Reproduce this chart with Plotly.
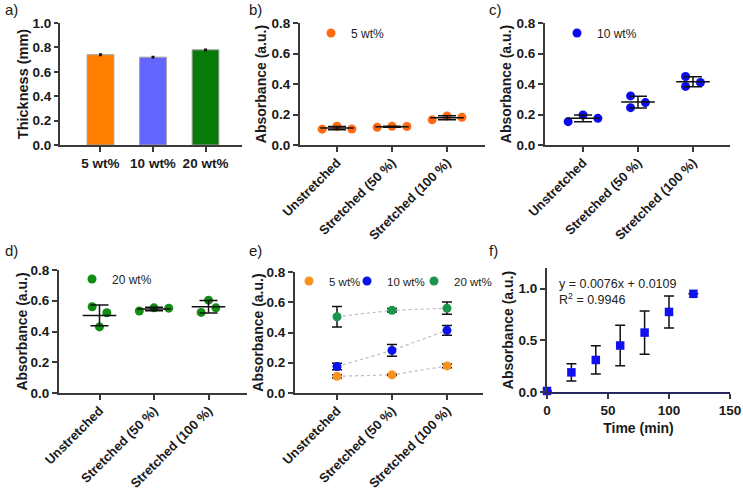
import numpy as np
import plotly.graph_objects as go

W, H = 743, 492
FONT = "Liberation Sans, Arial, sans-serif"

# ---------------- data ----------------
thick_labels = ["5 wt%", "10 wt%", "20 wt%"]
thick_mean = [0.74, 0.72, 0.78]
thick_err = [0.004, 0.003, 0.003]
thick_colors = ["#FF8000", "#6464FF", "#077A07"]

stretch_labels = ["Unstretched", "Stretched (50 %)", "Stretched (100 %)"]
abs_5wt = [[0.104, 0.123, 0.105], [0.116, 0.123, 0.121], [0.165, 0.190, 0.182]]
abs_10wt = [[0.153, 0.197, 0.175], [0.322, 0.245, 0.278], [0.449, 0.384, 0.410]]
abs_20wt = [[0.561, 0.522, 0.430], [0.533, 0.554, 0.552], [0.604, 0.554, 0.524]]
series_names = ["5 wt%", "10 wt%", "20 wt%"]

time_min = [0, 20, 40, 60, 80, 100, 120]
abs_time = [0.01, 0.19, 0.31, 0.45, 0.575, 0.775, 0.95]
abs_time_sd = [0.0, 0.083, 0.137, 0.197, 0.21, 0.155, 0.0]
fit_text = "y = 0.0076x + 0.0109<br>R<sup>2</sup> = 0.9946"

# horizontal spreading of replicate dots (layout, in units of dot spacing)
jit_5 = [[-1, 0, 1], [-1, 0, 1], [-1, 0, 1]]
jit_10 = [[-1, 0, 1], [-0.5, -0.5, 0.5], [-0.5, -0.5, 0.5]]
jit_20 = [[-0.5, 0.5, 0], [-1, 0, 1], [0, 0.5, -0.5]]
DOT_STEP = 0.27


def xd(l, r):
    return [l / W, r / W]


def yd(top, bottom):
    return [1 - bottom / H, 1 - top / H]


AXC = "#3a3a3a"
TICKFONT = dict(family=FONT, size=13.5, color="#1a1a1a", weight="bold")
CATFONT = dict(family=FONT, size=13, color="#1a1a1a", weight="bold")
TITLEFONT = dict(family=FONT, size=14, color="#1a1a1a", weight="bold")


def axis(**kw):
    d = dict(showline=True, linecolor=AXC, linewidth=2, ticks="outside",
             ticklen=5, tickwidth=2, tickcolor=AXC, showgrid=False,
             zeroline=False, tickfont=TICKFONT, fixedrange=True, automargin=False)
    d.update(kw)
    return d


fig = go.Figure()

# ---------------- panel a ----------------
fig.add_trace(go.Bar(
    x=[0, 1, 2], y=thick_mean, width=0.51,
    marker=dict(color=thick_colors, line=dict(color="#a0a0a0", width=1)),
    error_y=dict(type="data", array=thick_err, color="#111", thickness=2, width=1.5),
    xaxis="x", yaxis="y", showlegend=False))

# ---------------- panels b, c, d ----------------
dot_panels = [
    (abs_5wt, jit_5, "#FF6A12", "5 wt%", "x2", "y2", "legend"),
    (abs_10wt, jit_10, "#0B0BF0", "10 wt%", "x3", "y3", "legend2"),
    (abs_20wt, jit_20, "#138C13", "20 wt%", "x4", "y4", "legend3"),
]
for vals, jit, col, name, xa, ya, lg in dot_panels:
    xs, ys = [], []
    for i, (grp, jg) in enumerate(zip(vals, jit)):
        for v, j in zip(grp, jg):
            xs.append(i + DOT_STEP * j)
            ys.append(v)
    fig.add_trace(go.Scatter(
        x=xs, y=ys, mode="markers", name=name,
        marker=dict(color=col, size=9),
        xaxis=xa, yaxis=ya, legend=lg, cliponaxis=False))
    arr = np.array(vals)
    fig.add_trace(go.Scatter(
        x=[0, 1, 2], y=arr.mean(axis=1), mode="markers",
        marker=dict(symbol="line-ew", size=24, line=dict(color="#111", width=1.5)),
        error_y=dict(type="data", array=arr.std(axis=1, ddof=1), color="#111",
                     thickness=1.5, width=9),
        xaxis=xa, yaxis=ya, showlegend=False, cliponaxis=False))

# ---------------- panel e ----------------
e_colors = ["#F8931F", "#0A14E8", "#19964C"]
e_lw = [13, 22, 40]
for vals, col, name, lw in zip([abs_5wt, abs_10wt, abs_20wt], e_colors, series_names, e_lw):
    arr = np.array(vals)
    m = arr.mean(axis=1)
    s = arr.std(axis=1, ddof=1)
    fig.add_trace(go.Scatter(
        x=[0, 1, 2], y=m, mode="lines",
        line=dict(color="#b9b9cf", width=1.2, dash="dot"),
        xaxis="x5", yaxis="y5", showlegend=False))
    fig.add_trace(go.Scatter(
        x=[0, 1, 2], y=m, mode="markers", name=name,
        marker=dict(color=col, size=9),
        error_y=dict(type="data", array=s, color="#111", thickness=1.5, width=5),
        xaxis="x5", yaxis="y5", legend="legend4", legendwidth=lw, cliponaxis=False))

# ---------------- panel f ----------------
fig.add_trace(go.Scatter(
    x=time_min, y=abs_time, mode="markers",
    marker=dict(symbol="square", size=8.5, color="#1010F0"),
    error_y=dict(type="data", array=abs_time_sd, color="#111", thickness=1.5, width=5),
    xaxis="x6", yaxis="y6", showlegend=False, cliponaxis=False))

# ---------------- layout ----------------
cat_ticks = dict(tickmode="array", tickvals=[0, 1, 2], ticktext=stretch_labels,
                 tickangle=-45, tickfont=CATFONT, ticklabelstandoff=-2)


def yabs(standoff):
    return dict(range=[0, 0.8], dtick=0.2, tickformat=".1f",
                title=dict(text="Absorbance (a.u.)", font=TITLEFONT, standoff=standoff))


leg_common = dict(bgcolor="rgba(0,0,0,0)", borderwidth=0,
                  font=dict(family=FONT, size=12, color="#222"),
                  xanchor="left", yanchor="middle", itemclick=False,
                  itemdoubleclick=False)

fig.update_layout(
    template="none",
    width=W, height=H, autosize=False,
    margin=dict(l=0, r=0, t=0, b=0, pad=0),
    paper_bgcolor="white", plot_bgcolor="white",
    font=dict(family=FONT, color="#1a1a1a"),
    # a
    xaxis=axis(domain=xd(60, 242), range=[-0.771, 2.695], anchor="y",
               tickmode="array", tickvals=[0, 1, 2], ticktext=thick_labels,
               tickfont=dict(family=FONT, size=13.5, color="#1a1a1a", weight="bold")),
    yaxis=axis(domain=yd(23, 145), range=[0, 1.0], dtick=0.2, tickformat=".1f",
               anchor="x", ticklen=4,
               tickfont=dict(family=FONT, size=13.5, color="#1a1a1a", weight="bold"),
               title=dict(text="Thickness (mm)", standoff=0,
                          font=dict(family=FONT, size=14.5, color="#1a1a1a", weight="bold"))),
    # b
    xaxis2=axis(domain=xd(300, 485), range=[-0.673, 2.691], anchor="y2", **cat_ticks),
    yaxis2=axis(domain=yd(23, 145), anchor="x2", **yabs(2)),
    # c
    xaxis3=axis(domain=xd(545, 730), range=[-0.691, 2.673], anchor="y3", **cat_ticks),
    yaxis3=axis(domain=yd(23, 145), anchor="x3", **yabs(2)),
    # d
    xaxis4=axis(domain=xd(59, 247), range=[-0.743, 2.706], anchor="y4", **cat_ticks),
    yaxis4=axis(domain=yd(270, 393), anchor="x4", **yabs(0)),
    # e
    xaxis5=axis(domain=xd(295, 483), range=[-0.764, 2.655], anchor="y5", **cat_ticks),
    yaxis5=axis(domain=yd(272, 393), anchor="x5", **yabs(0)),
    # f
    xaxis6=axis(domain=xd(547, 730), range=[0, 150], dtick=50, anchor="y6",
                linecolor="#262660",
                title=dict(text="Time (min)", font=TITLEFONT, standoff=6)),
    yaxis6=axis(domain=yd(268, 392), range=[0, 1.2], tickvals=[0, 0.5, 1.0],
                tickformat=".1f", anchor="x6",
                title=dict(text="Absorbance (a.u.)", font=TITLEFONT, standoff=2)),
    legend=dict(x=(337 - 26) / W, y=1 - 33 / H, **leg_common),
    legend2=dict(x=(583 - 26) / W, y=1 - 33 / H, **leg_common),
    legend3=dict(x=(98 - 26) / W, y=1 - 279 / H, **leg_common),
    legend4=dict(x=(309 - 20) / W, y=1 - 281 / H, orientation="h",
                 **{**leg_common, "font": dict(family=FONT, size=11.5, color="#222")}),
)

# panel letters
for txt, px, py in [("a)", 3, 10), ("b)", 247, 10), ("c)", 487, 10),
                    ("d)", 3, 250), ("e)", 247, 250), ("f)", 487, 250)]:
    fig.add_annotation(text=txt, x=px / W, y=1 - py / H, xref="paper", yref="paper",
                       xanchor="left", yanchor="middle", showarrow=False,
                       font=dict(family=FONT, size=15, color="#1a1a1a"))

fig.add_annotation(text=fit_text, x=557 / W, y=1 - 291.5 / H, xref="paper", yref="paper",
                   xanchor="left", yanchor="middle", align="left", showarrow=False,
                   font=dict(family=FONT, size=12.5, color="#222"))

fig.write_html("out.html", config={"displayModeBar": False},
               post_script="document.body.style.margin='0';document.body.style.overflow='hidden';")
